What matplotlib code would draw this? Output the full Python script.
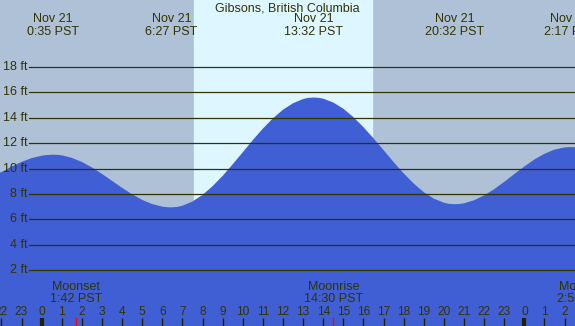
import matplotlib
matplotlib.use("Agg")
import matplotlib.pyplot as plt

plt.rcParams["font.family"] = ["Liberation Sans", "DejaVu Sans"]

# ---- data (hours from midnight Nov 21, feet) ----
hours = [-2.07, -2, -1.5, -1, -0.5, 0, 0.25, 0.58, 0.85, 1, 1.5, 2, 2.5, 3, 3.5, 4, 4.5,
         5, 5.5, 6, 6.2, 6.45, 6.75, 7, 7.5, 8, 8.5, 9, 9.5, 10, 10.5, 11, 11.5, 12,
         12.5, 13, 13.25, 13.53, 13.75, 14, 14.5, 15, 15.5, 16, 16.5, 17, 17.5, 18,
         18.5, 19, 19.5, 20, 20.25, 20.53, 20.8, 21, 21.5, 22, 22.5, 23, 23.5, 24,
         24.5, 25, 25.5, 26, 26.28, 26.6]
height = [9.7, 9.72, 10.16, 10.53, 10.83, 11.02, 11.07, 11.1, 11.08, 11.05, 10.85,
          10.53, 10.1, 9.59, 9.04, 8.49, 7.98, 7.54, 7.21, 7.01, 6.97, 6.95, 6.99,
          7.08, 7.41, 7.93, 8.62, 9.43, 10.34, 11.29, 12.25, 13.15, 13.96, 14.64,
          15.15, 15.48, 15.57, 15.6, 15.58, 15.51, 15.21, 14.72, 14.06, 13.27, 12.39,
          11.46, 10.52, 9.63, 8.83, 8.15, 7.64, 7.32, 7.23, 7.2, 7.22, 7.27, 7.51,
          7.89, 8.38, 8.96, 9.57, 10.17, 10.72, 11.17, 11.5, 11.67, 11.7, 11.68]

extreme_t = [0.58, 6.45, 13.53, 20.53, 26.28]
extreme_lbl = ["0:35 PST", "6:27 PST", "13:32 PST", "20:32 PST", "2:17 PST"]

sunrise, sunset = 7.57, 16.42

moon_t = [1.70, 14.50, 26.92]
moon_name = ["Moonset", "Moonrise", "Moonset"]
moon_lbl = ["1:42 PST", "14:30 PST", "2:55 PST"]

grid_ft = [2, 4, 6, 8, 10, 12, 14, 16, 18]
hour_ticks = list(range(-2, 27))

C_NIGHT, C_DAY, C_WATER = "#aec1d6", "#ddf6ff", "#405fd4"
C_TXT = "#333300"

X0, X1 = -2.07, 26.52
Y0, Y1 = -2.39, 23.28


def py(px):
    # pixel row -> feet
    return (295.6 - px) / 12.7


fig = plt.figure(figsize=(5.75, 3.26), dpi=100)
ax = fig.add_axes([0, 0, 1, 1])
ax.set_xlim(X0, X1)
ax.set_ylim(Y0, Y1)
ax.axis("off")

ax.axvspan(X0, X1, color=C_NIGHT, zorder=0)
ax.axvspan(sunrise, sunset, color=C_DAY, zorder=0.5)
ax.fill_between(hours, height, Y0, color=C_WATER, lw=0, zorder=1)

for g in grid_ft:
    ax.plot([-0.63, X1], [g, g], color=C_TXT, lw=0.9, zorder=2)
    ax.text(-0.72, g, f"{g} ft", ha="right", va="center", fontsize=9, color=C_TXT, zorder=3)

ax.text(12.2, py(8), "Gibsons, British Columbia", ha="center", va="center",
        fontsize=9, color=C_TXT)
for t, lbl in zip(extreme_t, extreme_lbl):
    ax.text(t, py(19), "Nov 21", ha="center", va="center", fontsize=9, color=C_TXT)
    ax.text(t, py(31.5), lbl, ha="center", va="center", fontsize=9, color=C_TXT)

for t, n, lbl in zip(moon_t, moon_name, moon_lbl):
    ax.text(t, py(287), n, ha="center", va="center", fontsize=9, color=C_TXT)
    ax.text(t, py(299), lbl, ha="center", va="center", fontsize=9, color=C_TXT)
    ax.plot([t, t], [py(318), Y0], color="red", lw=1.0, zorder=3)

for h in hour_ticks:
    ax.text(h, py(311.5), str(h % 24), ha="center", va="center", fontsize=8.6, color=C_TXT)
    lw = 3.0 if h % 24 == 0 else 1.0
    ax.plot([h, h], [py(318), Y0], color="#222200", lw=lw, zorder=3, solid_capstyle="butt")

fig.savefig("out.png", dpi=100)
